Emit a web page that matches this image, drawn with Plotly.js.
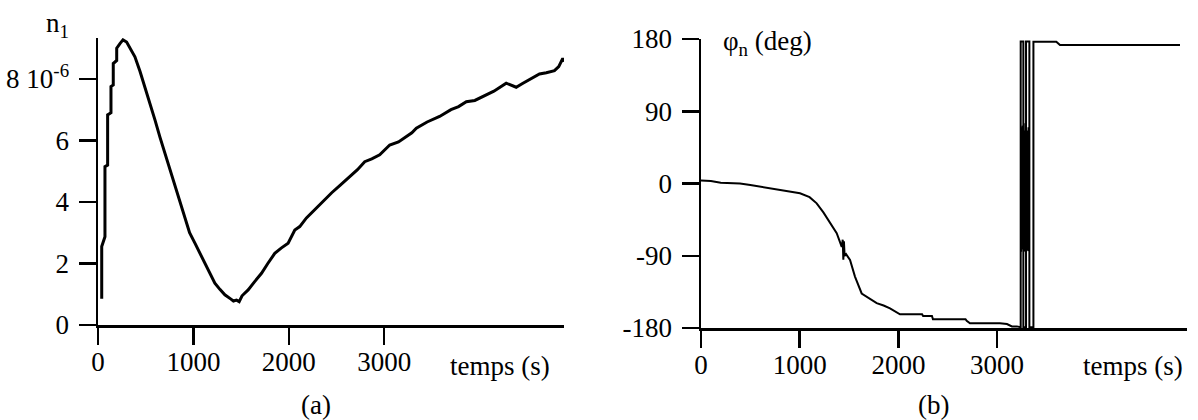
<!DOCTYPE html>
<html>
<head>
<meta charset="utf-8">
<script src="https://cdn.plot.ly/plotly-3.0.1.min.js"></script>
<style>html,body{margin:0;padding:0;background:#fff;}#chart{width:1198px;height:420px;}</style>
</head>
<body>
<div id="chart"></div>
<script>
// Panel (a): n1 versus time
const timeA = [39,39,73,73,101,101,136,136,160,160,196,196,230,262,300,340,387,440,492,545,597,650,702,755,806,860,911,960,1016,1070,1120,1170,1225,1280,1330,1390,1420,1452,1480,1510,1574,1640,1714,1780,1853,1920,1993,2063,2115,2185,2270,2359,2450,2540,2639,2720,2796,2870,2953,3058,3150,3232,3290,3337,3450,3581,3700,3780,3861,3950,4035,4150,4279,4330,4384,4450,4524,4628,4700,4785,4830,4872,4885];
const n1 = [0.85,2.55,2.87,5.15,5.2,6.83,6.9,7.75,7.8,8.5,8.6,9.0,9.15,9.27,9.2,9.0,8.72,8.25,7.75,7.2,6.67,6.1,5.58,5.05,4.5,3.95,3.41,3.0,2.66,2.33,2.0,1.68,1.36,1.15,0.98,0.85,0.78,0.81,0.76,0.95,1.14,1.4,1.68,2.0,2.33,2.5,2.66,3.09,3.2,3.48,3.75,4.01,4.3,4.55,4.82,5.05,5.31,5.4,5.53,5.85,5.95,6.12,6.25,6.4,6.6,6.78,7.0,7.1,7.26,7.3,7.43,7.6,7.86,7.8,7.73,7.85,7.97,8.16,8.2,8.27,8.4,8.67,8.56];

// Panel (b): phase versus time
const timeB = [0,100,200,300,395,500,600,700,800,900,1003,1100,1172,1240,1307,1375,1426,1436,1442,1448,1455,1470,1510,1560,1628,1700,1780,1850,1915,2016,2240,2250,2340,2350,2680,2692,2725,3029,3100,3150,3200,3239,3239,3266,3266,3293,3293,3327,3327,3368,3368,3600,3637,4853];
const phase = [3.7,3,1,0.5,0,-2,-4,-6,-8,-10,-12.2,-17,-24.7,-36,-49.6,-62,-79,-70,-95,-72,-90,-88,-95.3,-116,-137,-143,-149,-152,-155.5,-163,-163,-165,-165,-169,-169,-171,-174,-174,-175,-178,-178,-179,177,177,-179,-179,177,177,-179,-179,176.6,176.6,172.5,172.5];
// dense switching band between the wraps
const timeBand = [3245,3245,3250,3250,3256,3256,3272,3272,3280,3280,3286,3286,3300,3300,3310,3310,3318,3318];
const phaseBand = [-85,70,65,-80,-82,72,60,-84,-80,68,75,-85,-82,66,62,-80,-84,70];

const xTicks = [0,1000,2000,3000];
const yTicksA = [0,2,4,6,8];
const yTickTextA = ['0','2','4','6','8 10<sup>-6</sup>'];
const yTicksB = [-180,-90,0,90,180];

const FAMILY = 'Liberation Serif, Times New Roman, serif';
function font(){ return {family:FAMILY, size:27, color:'#000'}; }

function axisBase(){
  return {
    showline:true, linewidth:2.5, linecolor:'#000', mirror:false,
    ticks:'outside', ticklen:17, tickwidth:2.5, tickcolor:'#000',
    showgrid:false, zeroline:false, tickfont:font(), fixedrange:true
  };
}

const traces = [
  {x:timeA, y:n1, xaxis:'x', yaxis:'y', mode:'lines', line:{color:'#000', width:3}, hoverinfo:'skip'},
  {x:timeB, y:phase, xaxis:'x2', yaxis:'y2', mode:'lines', line:{color:'#000', width:2}, hoverinfo:'skip'},
  {x:timeBand, y:phaseBand, xaxis:'x2', yaxis:'y2', mode:'lines', line:{color:'#000', width:2}, hoverinfo:'skip'}
];

function ann(text, px, py){
  return {text:text, xref:'paper', yref:'paper', x:px/1198, y:1-py/420, xanchor:'center', yanchor:'middle', showarrow:false, font:font()};
}

const layout = {
  width:1198, height:420,
  margin:{l:0, r:0, t:0, b:0},
  paper_bgcolor:'#fff', plot_bgcolor:'#fff',
  showlegend:false,
  font:font(),
  xaxis:Object.assign(axisBase(), {domain:[98/1198, 564/1198], range:[0,4885], tickvals:xTicks, ticktext:xTicks.map(String), anchor:'y', ticklabelstandoff:-6}),
  yaxis:Object.assign(axisBase(), {domain:[1-325/420, 1-38/420], range:[0,9.33], tickvals:yTicksA, ticktext:yTickTextA, anchor:'x', ticklabelstandoff:4}),
  xaxis2:Object.assign(axisBase(), {domain:[701/1198, 1187/1198], range:[0,4924], tickvals:xTicks, ticktext:xTicks.map(String), anchor:'y2', ticklabelstandoff:-6}),
  yaxis2:Object.assign(axisBase(), {domain:[1-328/420, 1-39/420], range:[-180,180], tickvals:yTicksB, ticktext:yTicksB.map(String), anchor:'x2', ticklabelstandoff:4}),
  annotations:[
    ann('temps (s)', 500, 366),
    ann('temps (s)', 1133, 366),
    ann('(a)', 316, 405),
    ann('(b)', 933, 405),
    ann('n<sub>1</sub>', 57, 25),
    ann('φ<sub>n</sub> (deg)', 767, 43)
  ]
};

Plotly.newPlot('chart', traces, layout, {staticPlot:true, displayModeBar:false});
</script>
</body>
</html>
